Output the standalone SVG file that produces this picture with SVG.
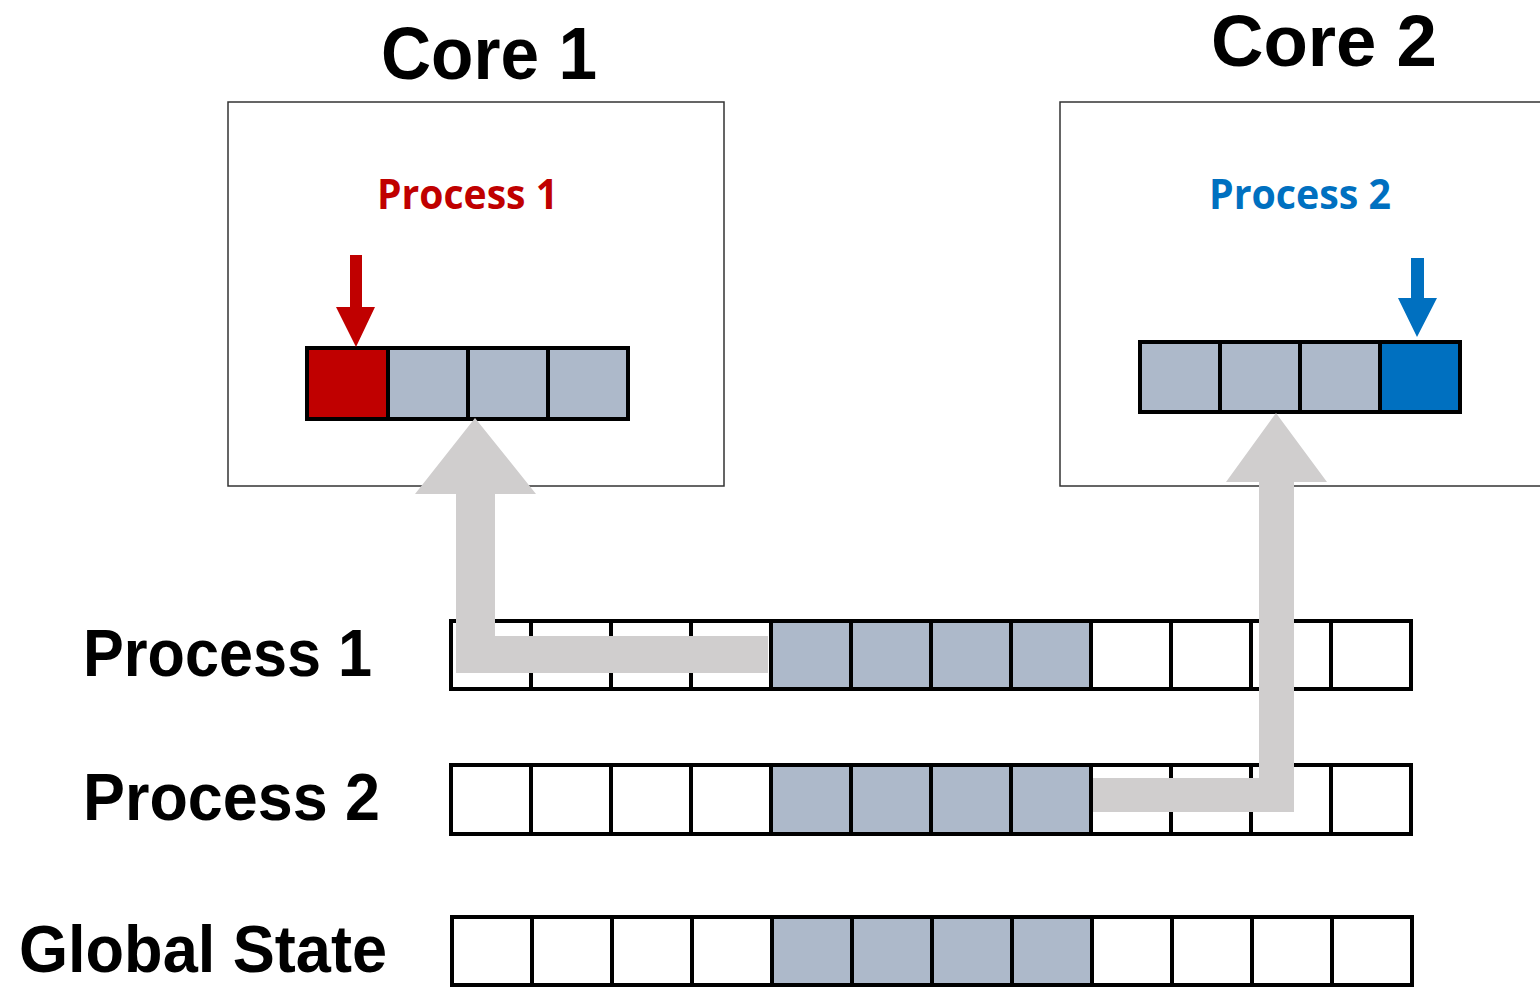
<svg xmlns="http://www.w3.org/2000/svg" width="1540" height="987" viewBox="0 0 1540 987">
<style>
.title{font-family:"Liberation Sans",Arial,sans-serif;font-weight:bold;fill:#000}
.plabel{font-family:"Open Sans","Noto Sans",sans-serif;font-weight:bold}
.box{fill:#fff;stroke:#333;stroke-width:1.5}
.cell{fill:#fff;stroke:#000;stroke-width:4}
.g{fill:#ADB9CA}
.red{fill:#C00000}
.blue{fill:#0070C0}
.flow{fill:#D0CECE}
</style>
<rect width="1540" height="987" fill="#fff"/>

<g id="core1">
  <text class="title" x="381" y="79" font-size="74" textLength="216" lengthAdjust="spacingAndGlyphs">Core 1</text>
  <rect class="box" x="228" y="102" width="496" height="384"/>
  <text class="plabel" x="377" y="209" font-size="42" fill="#C00000" textLength="181" lengthAdjust="spacingAndGlyphs">Process 1</text>
  <rect class="cell red" x="307" y="348" width="81" height="71"/>
  <rect class="cell g" x="388" y="348" width="80" height="71"/>
  <rect class="cell g" x="468" y="348" width="80" height="71"/>
  <rect class="cell g" x="548" y="348" width="80" height="71"/>
  <polygon class="red" points="350,255 362,255 362,307 375,307 356,347 336,307 350,307"/>
</g>

<g id="core2">
  <text class="title" x="1211" y="66" font-size="72" textLength="226" lengthAdjust="spacingAndGlyphs">Core 2</text>
  <rect class="box" x="1060" y="102" width="490" height="384"/>
  <text class="plabel" x="1209" y="209" font-size="42" fill="#0070C0" textLength="182" lengthAdjust="spacingAndGlyphs">Process 2</text>
  <rect class="cell g" x="1140" y="342" width="80" height="70"/>
  <rect class="cell g" x="1220" y="342" width="80" height="70"/>
  <rect class="cell g" x="1300" y="342" width="80" height="70"/>
  <rect class="cell blue" x="1380" y="342" width="80" height="70"/>
  <polygon class="blue" points="1411,258 1424,258 1424,298 1437,298 1417,337 1398,298 1411,298"/>
</g>

<g id="row-process1">
  <text class="title" x="83" y="676" font-size="66" textLength="289" lengthAdjust="spacingAndGlyphs">Process 1</text>
  <rect class="cell" x="451" y="621" width="80" height="68"/>
  <rect class="cell" x="531" y="621" width="80" height="68"/>
  <rect class="cell" x="611" y="621" width="80" height="68"/>
  <rect class="cell" x="691" y="621" width="80" height="68"/>
  <rect class="cell g" x="771" y="621" width="80" height="68"/>
  <rect class="cell g" x="851" y="621" width="80" height="68"/>
  <rect class="cell g" x="931" y="621" width="80" height="68"/>
  <rect class="cell g" x="1011" y="621" width="80" height="68"/>
  <rect class="cell" x="1091" y="621" width="80" height="68"/>
  <rect class="cell" x="1171" y="621" width="80" height="68"/>
  <rect class="cell" x="1251" y="621" width="80" height="68"/>
  <rect class="cell" x="1331" y="621" width="80" height="68"/>
</g>

<g id="row-process2">
  <text class="title" x="83" y="820" font-size="66" textLength="297" lengthAdjust="spacingAndGlyphs">Process 2</text>
  <rect class="cell" x="451" y="765" width="80" height="69"/>
  <rect class="cell" x="531" y="765" width="80" height="69"/>
  <rect class="cell" x="611" y="765" width="80" height="69"/>
  <rect class="cell" x="691" y="765" width="80" height="69"/>
  <rect class="cell g" x="771" y="765" width="80" height="69"/>
  <rect class="cell g" x="851" y="765" width="80" height="69"/>
  <rect class="cell g" x="931" y="765" width="80" height="69"/>
  <rect class="cell g" x="1011" y="765" width="80" height="69"/>
  <rect class="cell" x="1091" y="765" width="80" height="69"/>
  <rect class="cell" x="1171" y="765" width="80" height="69"/>
  <rect class="cell" x="1251" y="765" width="80" height="69"/>
  <rect class="cell" x="1331" y="765" width="80" height="69"/>
</g>

<g id="row-global">
  <text class="title" x="19" y="972" font-size="66" textLength="368" lengthAdjust="spacingAndGlyphs">Global State</text>
  <rect class="cell" x="452" y="917" width="80" height="68"/>
  <rect class="cell" x="532" y="917" width="80" height="68"/>
  <rect class="cell" x="612" y="917" width="80" height="68"/>
  <rect class="cell" x="692" y="917" width="80" height="68"/>
  <rect class="cell g" x="772" y="917" width="80" height="68"/>
  <rect class="cell g" x="852" y="917" width="80" height="68"/>
  <rect class="cell g" x="932" y="917" width="80" height="68"/>
  <rect class="cell g" x="1012" y="917" width="80" height="68"/>
  <rect class="cell" x="1092" y="917" width="80" height="68"/>
  <rect class="cell" x="1172" y="917" width="80" height="68"/>
  <rect class="cell" x="1252" y="917" width="80" height="68"/>
  <rect class="cell" x="1332" y="917" width="80" height="68"/>
</g>

<g id="connectors">
  <polygon class="flow" points="475,418 536,494 495,494 495,636 768,636 768,673 456,673 456,494 415,494"/>
  <polygon class="flow" points="1276,413 1327,482 1294,482 1294,812 1093,812 1093,778 1259,778 1259,482 1226,482"/>
</g>
</svg>
